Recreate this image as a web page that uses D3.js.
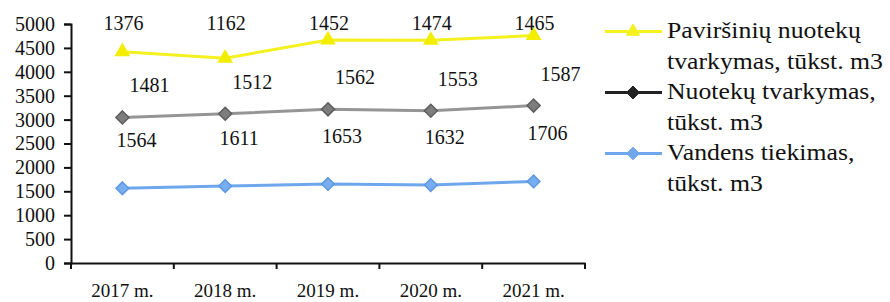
<!DOCTYPE html>
<html>
<head>
<meta charset="utf-8">
<script src="https://cdn.jsdelivr.net/npm/d3@7"></script>
<style>
  body { margin: 0; background: #fff; }
  svg text { fill: #111; }
</style>
</head>
<body>
<div id="chart"></div>
<script>
// data: stacked line chart (values per series, stacked bottom -> top)
var years = ["2017 m.", "2018 m.", "2019 m.", "2020 m.", "2021 m."];
var vandens = [1564, 1611, 1653, 1632, 1706];
var nuotekos = [1481, 1512, 1562, 1553, 1587];
var pavirsiniu = [1376, 1162, 1452, 1474, 1465];
var yTicks = [0, 500, 1000, 1500, 2000, 2500, 3000, 3500, 4000, 4500, 5000];

var W = 890, H = 302;
var FONT = "'Liberation Serif', 'Times New Roman', serif";
var svg = d3.select("#chart").append("svg").attr("width", W).attr("height", H)
    .attr("font-family", FONT);

var x = d3.scaleBand().domain(years).range([71, 585]).padding(0);
var y = d3.scaleLinear().domain([0, 5000]).range([263, 24]);

// stacked totals
var s1 = vandens.slice();
var s2 = vandens.map(function(v, i) { return v + nuotekos[i]; });
var s3 = s2.map(function(v, i) { return v + pavirsiniu[i]; });

// diamond = square turned 45deg
var diamond = {
    draw: function(ctx, size) {
        var r = Math.sqrt(size / 2);
        ctx.moveTo(0, -r); ctx.lineTo(r, 0); ctx.lineTo(0, r); ctx.lineTo(-r, 0); ctx.closePath();
    }
};

// label placement: dx from point, dy from point (or fixed row at top for the top series)
var series = [
    { name: ["Vandens tiekimas,", "tūkst. m3"], stacked: s1, raw: vandens, color: "#6fa7ec", mfill: "#78aef0", mstroke: "#5e98e2", legColor: "#6fa7ec", shape: diamond, size: 80,
      labX: function(i) { return cx(i) + 14; }, labY: function(i) { return y(s1[i]) - 48; } },
    { name: ["Nuotekų tvarkymas,", "tūkst. m3"], stacked: s2, raw: nuotekos, color: "#959595", mfill: "#7d7d7d", mstroke: "#5e5e5e", legColor: "#222", shape: diamond, size: 85,
      labX: function(i) { return cx(i) + 27; }, labY: function(i) { return y(s2[i]) - 32; } },
    { name: ["Paviršinių nuotekų", "tvarkymas, tūkst. m3"], stacked: s3, raw: pavirsiniu, color: "#f5f11e", mfill: "#f3ed00", mstroke: "#f3ed00", legColor: "#f5f11e", shape: d3.symbolTriangle, size: 75,
      labX: function(i) { return cx(i) + 1; }, labY: function(i) { return y(5000) - 1; } }
];

function cx(i) { return x(years[i]) + x.bandwidth() / 2; }

// y axis
var yAxis = svg.append("g").attr("transform", "translate(71,0)")
    .call(d3.axisLeft(y).tickValues(yTicks).tickFormat(d3.format("d")).tickSize(7).tickPadding(9));
yAxis.attr("font-family", FONT).attr("font-size", 20);
yAxis.select(".domain").attr("stroke", "#111").attr("stroke-width", 2);
yAxis.selectAll(".tick line").attr("stroke", "#111").attr("stroke-width", 2);
yAxis.selectAll("text").attr("fill", "#111");

// x axis
var xAxis = svg.append("g").attr("transform", "translate(0,263)")
    .call(d3.axisBottom(x).tickSize(0).tickPadding(21));
xAxis.attr("font-family", FONT).attr("font-size", 19);
xAxis.select(".domain").attr("stroke", "#111").attr("stroke-width", 2);
xAxis.selectAll("text").attr("fill", "#111");
var bounds = years.map(function(d) { return x(d); }).concat([x.range()[1]]);
svg.append("g").selectAll("line").data(bounds).join("line")
    .attr("x1", function(d) { return d; }).attr("x2", function(d) { return d; })
    .attr("y1", 263).attr("y2", 269)
    .attr("stroke", "#111").attr("stroke-width", 2);

// lines + markers
var line = d3.line().x(function(d, i) { return cx(i); }).y(function(d) { return y(d); });

series.forEach(function(s) {
    svg.append("path").attr("d", line(s.stacked))
        .attr("fill", "none").attr("stroke", s.color).attr("stroke-width", 3);
    svg.append("g").selectAll("path").data(s.stacked).join("path")
        .attr("d", d3.symbol().type(s.shape).size(s.size))
        .attr("transform", function(d, i) { return "translate(" + cx(i) + "," + y(d) + ")"; })
        .attr("fill", s.mfill).attr("stroke", s.mstroke).attr("stroke-width", 1.5);
});

// data labels (series values, not stacked totals)
series.forEach(function(s) {
    svg.append("g").selectAll("text").data(s.raw).join("text")
        .attr("x", function(d, i) { return s.labX(i); })
        .attr("y", function(d, i) { return s.labY(i); })
        .attr("text-anchor", "middle").attr("dominant-baseline", "central")
        .attr("font-size", 20)
        .text(function(d) { return d; });
});

// legend (top series first); text is a little wider than tall in the source
var leg = svg.append("g");
series.slice().reverse().forEach(function(s, k) {
    var base = 38 + k * 61;
    var my = base - 6.5;
    leg.append("line").attr("x1", 605).attr("x2", 662).attr("y1", my).attr("y2", my)
        .attr("stroke", s.legColor).attr("stroke-width", 3);
    leg.append("path")
        .attr("d", d3.symbol().type(s.shape).size(s.size))
        .attr("transform", "translate(633," + my + ")")
        .attr("fill", s.legColor).attr("stroke", s.legColor);
    s.name.forEach(function(t, j) {
        leg.append("text")
            .attr("transform", "translate(667," + (base + j * 31) + ") scale(1.12,1)")
            .attr("font-size", 23).text(t);
    });
});
</script>
</body>
</html>
